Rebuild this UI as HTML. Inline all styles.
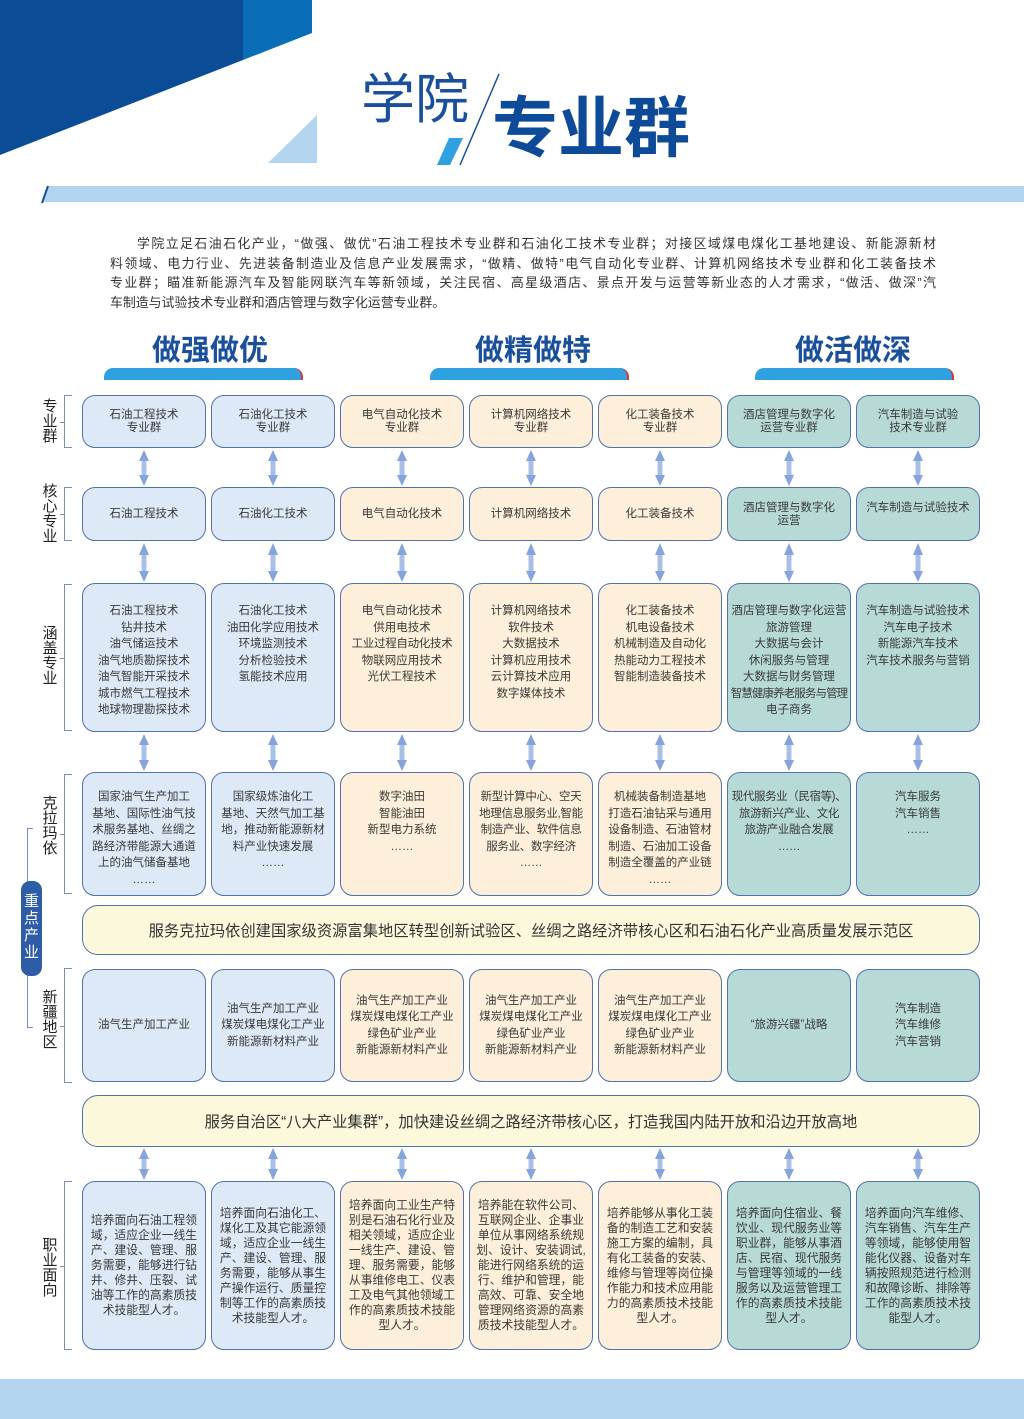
<!DOCTYPE html>
<html><head><meta charset="utf-8">
<style>
*{margin:0;padding:0;box-sizing:border-box}
body{width:1024px;height:1419px;position:relative;background:#fff;font-family:"Liberation Sans","Noto Sans CJK SC",sans-serif;color:#333;overflow:hidden}
.a{position:absolute}
.b{position:absolute;width:124px;border:1.5px solid #5272aa;border-radius:13px;text-align:center;font-size:11.5px;color:#3a3a3a;white-space:nowrap}
.c{display:flex;align-items:center;justify-content:center;line-height:13px}
.bl{background:#dde9f7}.cr{background:#fdefd9}.tl{background:#b7dad6}
.lab{position:absolute;left:42px;width:16px;font-size:15px;line-height:15px;color:#222;text-align:center}
.brk{position:absolute;left:64px;width:8px;border:1px solid #7a8fb5;border-right:none}
.brk:after{content:"";position:absolute;left:-5px;top:50%;width:5px;border-top:1px solid #7a8fb5}
.ban{position:absolute;left:82px;width:898px;background:#fbf8dc;border:1.5px solid #5272aa;border-radius:16px;font-size:15.3px;color:#333;display:flex;align-items:center;justify-content:center}
.h{position:absolute;font-size:29px;font-weight:bold;color:#1a4f9c;width:200px;text-align:center}
.tab{position:absolute;top:368px;width:199px;height:12px;background:#2fa0e0;border-radius:9px 9px 0 0;border-right:2px solid #d33}
.pl{display:block;height:19.5px;white-space:nowrap;text-align:justify;text-align-last:justify}
</style></head><body>
<svg class="a" style="left:0;top:0" width="1024" height="210">
<polygon points="0,0 243,0 243,60 0,155" fill="#0b4c96"/>
<polygon points="243,0 312,0 312,33 243,60" fill="#0a6db7"/>
<polygon points="317,115 317,163 268,163" fill="#b3d4ef"/>
<polygon points="449,138 463,138 450,165 437,165" fill="#2fa0e0"/>
<line x1="499" y1="74" x2="460" y2="165" stroke="#1a4f9c" stroke-width="1.5"/>
<polygon points="48,186 1024,186 1024,202 42,202" fill="#b3d4ef"/>
<line x1="48" y1="186" x2="42" y2="203" stroke="#1a4f9c" stroke-width="2"/>
</svg>
<div class="a" style="left:361px;top:68px;font-size:54px;color:#1a4f9c;line-height:64px">学院</div>
<div class="a" style="left:492px;top:90px;font-size:66px;font-weight:bold;color:#0d4b99;line-height:76px">专业群</div>
<div class="a" style="left:110px;top:234px;width:826px;font-size:12.9px;line-height:19.5px;color:#333">
<span class="pl" style="padding-left:27px">学院立足石油石化产业，“做强、做优”石油工程技术专业群和石油化工技术专业群；对接区域煤电煤化工基地建设、新能源新材</span>
<span class="pl">料领域、电力行业、先进装备制造业及信息产业发展需求，“做精、做特”电气自动化专业群、计算机网络技术专业群和化工装备技术</span>
<span class="pl">专业群；瞄准新能源汽车及智能网联汽车等新领域，关注民宿、高星级酒店、景点开发与运营等新业态的人才需求，“做活、做深”汽</span>
<span style="display:block;white-space:nowrap">车制造与试验技术专业群和酒店管理与数字化运营专业群。</span>
</div>
<div class="h" style="left:110px;top:327px">做强做优</div>
<div class="h" style="left:433px;top:327px">做精做特</div>
<div class="h" style="left:753px;top:327px">做活做深</div>
<div class="tab" style="left:104px"></div><div class="tab" style="left:430px"></div><div class="tab" style="left:755px"></div>

<div class="lab" style="top:399px">专<br>业<br>群</div><div class="brk" style="top:395px;height:53px"></div>
<div class="lab" style="top:484px">核<br>心<br>专<br>业</div><div class="brk" style="top:487px;height:54px"></div>
<div class="lab" style="top:626px">涵<br>盖<br>专<br>业</div><div class="brk" style="top:584px;height:147px"></div>
<div class="lab" style="top:796px">克<br>拉<br>玛<br>依</div><div class="brk" style="top:774px;height:120px"></div>
<div class="lab" style="top:990px">新<br>疆<br>地<br>区</div><div class="brk" style="top:968px;height:115px"></div>
<div class="lab" style="top:1238px">职<br>业<br>面<br>向</div><div class="brk" style="top:1181px;height:169px"></div>
<div class="a" style="left:27px;top:828px;width:6px;height:200px;border:1px solid #7a8fb5;border-right:none"></div>
<div class="a" style="left:21px;top:881px;width:21px;height:95px;background:#2e5ca6;border-radius:9px;color:#fff;font-size:15px;line-height:17px;text-align:center;padding-top:12px">重<br>点<br>产<br>业</div>

<svg class="a" style="left:0;top:0" width="1024" height="1419">
<g stroke="#a9bfe6" stroke-width="5">
<path d="M144 460V477M273 460V477M402 460V477M531 460V477M660 460V477M789 460V477M918 460V477"/>
<path d="M144 555V573M273 555V573M402 555V573M531 555V573M660 555V573M789 555V573M918 555V573"/>
<path d="M144 745V762M273 745V762M402 745V762M531 745V762M660 745V762M789 745V762M918 745V762"/>
<path d="M144 1158V1171M273 1158V1171M402 1158V1171M531 1158V1171M660 1158V1171M789 1158V1171M918 1158V1171"/>
</g>
<g fill="#86a3dc">
<path id="p1" d="M144 450l-5 11h10z M144 486l-5-11h10z"/>
<use href="#p1" x="129"/><use href="#p1" x="258"/><use href="#p1" x="387"/><use href="#p1" x="516"/><use href="#p1" x="645"/><use href="#p1" x="774"/>
<path id="p2" d="M144 543l-5 12h10z M144 582l-5-11h10z"/>
<use href="#p2" x="129"/><use href="#p2" x="258"/><use href="#p2" x="387"/><use href="#p2" x="516"/><use href="#p2" x="645"/><use href="#p2" x="774"/>
<path id="p3" d="M144 734l-5 11h10z M144 771l-5-11h10z"/>
<use href="#p3" x="129"/><use href="#p3" x="258"/><use href="#p3" x="387"/><use href="#p3" x="516"/><use href="#p3" x="645"/><use href="#p3" x="774"/>
<path id="p4" d="M144 1148l-5 11h10z M144 1180l-5-11h10z"/>
<use href="#p4" x="129"/><use href="#p4" x="258"/><use href="#p4" x="387"/><use href="#p4" x="516"/><use href="#p4" x="645"/><use href="#p4" x="774"/>
</g>
</svg>

<div class="b c bl" style="left:82px;top:395px;height:53px">石油工程技术<br>专业群</div>
<div class="b c bl" style="left:211px;top:395px;height:53px">石油化工技术<br>专业群</div>
<div class="b c cr" style="left:340px;top:395px;height:53px">电气自动化技术<br>专业群</div>
<div class="b c cr" style="left:469px;top:395px;height:53px">计算机网络技术<br>专业群</div>
<div class="b c cr" style="left:598px;top:395px;height:53px">化工装备技术<br>专业群</div>
<div class="b c tl" style="left:727px;top:395px;height:53px">酒店管理与数字化<br>运营专业群</div>
<div class="b c tl" style="left:856px;top:395px;height:53px">汽车制造与试验<br>技术专业群</div>

<div class="b c bl" style="left:82px;top:487px;height:54px">石油工程技术</div>
<div class="b c bl" style="left:211px;top:487px;height:54px">石油化工技术</div>
<div class="b c cr" style="left:340px;top:487px;height:54px">电气自动化技术</div>
<div class="b c cr" style="left:469px;top:487px;height:54px">计算机网络技术</div>
<div class="b c cr" style="left:598px;top:487px;height:54px">化工装备技术</div>
<div class="b tl" style="left:727px;top:487px;height:54px;padding-top:14px;line-height:13px">酒店管理与数字化<br>运营</div>
<div class="b tl" style="left:856px;top:487px;height:54px;padding-top:14px;line-height:13px">汽车制造与试验技术</div>

<div class="b bl" style="left:82px;top:583px;height:149px;padding-top:19px;line-height:16.5px">石油工程技术<br>钻井技术<br>油气储运技术<br>油气地质勘探技术<br>油气智能开采技术<br>城市燃气工程技术<br>地球物理勘探技术</div>
<div class="b bl" style="left:211px;top:583px;height:149px;padding-top:19px;line-height:16.5px">石油化工技术<br>油田化学应用技术<br>环境监测技术<br>分析检验技术<br>氢能技术应用</div>
<div class="b cr" style="left:340px;top:583px;height:149px;padding-top:19px;line-height:16.5px">电气自动化技术<br>供用电技术<br><span style="letter-spacing:-0.3px">工业过程自动化技术</span><br>物联网应用技术<br>光伏工程技术</div>
<div class="b cr" style="left:469px;top:583px;height:149px;padding-top:19px;line-height:16.5px">计算机网络技术<br>软件技术<br>大数据技术<br>计算机应用技术<br>云计算技术应用<br>数字媒体技术</div>
<div class="b cr" style="left:598px;top:583px;height:149px;padding-top:19px;line-height:16.5px">化工装备技术<br>机电设备技术<br>机械制造及自动化<br>热能动力工程技术<br>智能制造装备技术</div>
<div class="b tl" style="left:727px;top:583px;height:149px;padding-top:19px;line-height:16.5px">酒店管理与数字化运营<br>旅游管理<br>大数据与会计<br>休闲服务与管理<br>大数据与财务管理<br><span style="letter-spacing:-0.9px">智慧健康养老服务与管理</span><br>电子商务</div>
<div class="b tl" style="left:856px;top:583px;height:149px;padding-top:19px;line-height:16.5px">汽车制造与试验技术<br>汽车电子技术<br>新能源汽车技术<br>汽车技术服务与营销</div>

<div class="b bl" style="left:82px;top:772px;height:124px;padding-top:16px;line-height:16.5px">国家油气生产加工<br>基地、国际性油气技<br>术服务基地、丝绸之<br>路经济带能源大通道<br>上的油气储备基地<br>……</div>
<div class="b bl" style="left:211px;top:772px;height:124px;padding-top:16px;line-height:16.5px">国家级炼油化工<br>基地、天然气加工基<br>地，推动新能源新材<br>料产业快速发展<br>……</div>
<div class="b cr" style="left:340px;top:772px;height:124px;padding-top:16px;line-height:16.5px">数字油田<br>智能油田<br>新型电力系统<br>……</div>
<div class="b cr" style="left:469px;top:772px;height:124px;padding-top:16px;line-height:16.5px;letter-spacing:-0.3px">新型计算中心、空天<br>地理信息服务业,智能<br>制造产业、软件信息<br>服务业、数字经济<br>……</div>
<div class="b cr" style="left:598px;top:772px;height:124px;padding-top:16px;line-height:16.5px">机械装备制造基地<br>打造石油钻采与通用<br>设备制造、石油管材<br>制造、石油加工设备<br>制造全覆盖的产业链<br>……</div>
<div class="b tl" style="left:727px;top:772px;height:124px;padding-top:16px;line-height:16.5px;letter-spacing:-0.4px">现代服务业（民宿等)、<br>旅游新兴产业、文化<br>旅游产业融合发展<br>……</div>
<div class="b tl" style="left:856px;top:772px;height:124px;padding-top:16px;line-height:16.5px">汽车服务<br>汽车销售<br>……</div>
<div class="ban" style="top:905px;height:50px">服务克拉玛依创建国家级资源富集地区转型创新试验区、丝绸之路经济带核心区和石油石化产业高质量发展示范区</div>

<div class="b c bl" style="left:82px;top:969px;height:113px;line-height:16.5px">油气生产加工产业</div>
<div class="b c bl" style="left:211px;top:969px;height:113px;line-height:16.5px">油气生产加工产业<br>煤炭煤电煤化工产业<br>新能源新材料产业</div>
<div class="b c cr" style="left:340px;top:969px;height:113px;line-height:16.5px">油气生产加工产业<br>煤炭煤电煤化工产业<br>绿色矿业产业<br>新能源新材料产业</div>
<div class="b c cr" style="left:469px;top:969px;height:113px;line-height:16.5px">油气生产加工产业<br>煤炭煤电煤化工产业<br>绿色矿业产业<br>新能源新材料产业</div>
<div class="b c cr" style="left:598px;top:969px;height:113px;line-height:16.5px">油气生产加工产业<br>煤炭煤电煤化工产业<br>绿色矿业产业<br>新能源新材料产业</div>
<div class="b c tl" style="left:727px;top:969px;height:113px;line-height:16.5px">“旅游兴疆”战略</div>
<div class="b c tl" style="left:856px;top:969px;height:113px;line-height:16.5px">汽车制造<br>汽车维修<br>汽车营销</div>
<div class="ban" style="top:1095px;height:52px">服务自治区“八大产业集群”，加快建设丝绸之路经济带核心区，打造我国内陆开放和沿边开放高地</div>

<div class="b c bl" style="left:82px;top:1181px;height:169px;line-height:15px;font-size:11.8px">培养面向石油工程领<br>域，适应企业一线生<br>产、建设、管理、服<br>务需要，能够进行钻<br>井、修井、压裂、试<br>油等工作的高素质技<br>术技能型人才。</div>
<div class="b c bl" style="left:211px;top:1181px;height:169px;line-height:15px;font-size:11.8px">培养面向石油化工、<br>煤化工及其它能源领<br>域，适应企业一线生<br>产、建设、管理、服<br>务需要，能够从事生<br>产操作运行、质量控<br>制等工作的高素质技<br>术技能型人才。</div>
<div class="b c cr" style="left:340px;top:1181px;height:169px;line-height:15px;font-size:11.8px">培养面向工业生产特<br>别是石油石化行业及<br>相关领域，适应企业<br>一线生产、建设、管<br>理、服务需要，能够<br>从事维修电工、仪表<br>工及电气其他领域工<br>作的高素质技术技能<br>型人才。</div>
<div class="b c cr" style="left:469px;top:1181px;height:169px;line-height:15px;font-size:11.8px">培养能在软件公司、<br>互联网企业、企事业<br>单位从事网络系统规<br>划、设计、安装调试,<br>能进行网络系统的运<br>行、维护和管理，能<br>高效、可靠、安全地<br>管理网络资源的高素<br>质技术技能型人才。</div>
<div class="b c cr" style="left:598px;top:1181px;height:169px;line-height:15px;font-size:11.8px">培养能够从事化工装<br>备的制造工艺和安装<br>施工方案的编制，具<br>有化工装备的安装、<br>维修与管理等岗位操<br>作能力和技术应用能<br>力的高素质技术技能<br>型人才。</div>
<div class="b c tl" style="left:727px;top:1181px;height:169px;line-height:15px;font-size:11.8px">培养面向住宿业、餐<br>饮业、现代服务业等<br>职业群，能够从事酒<br>店、民宿、现代服务<br>与管理等领域的一线<br>服务以及运营管理工<br>作的高素质技术技能<br>型人才。</div>
<div class="b c tl" style="left:856px;top:1181px;height:169px;line-height:15px;font-size:11.8px">培养面向汽车维修、<br>汽车销售、汽车生产<br>等领域，能够使用智<br>能化仪器、设备对车<br>辆按照规范进行检测<br>和故障诊断、排除等<br>工作的高素质技术技<br>能型人才。</div>

<div class="a" style="left:0;top:1379px;width:1024px;height:40px;background:#b3d4ef"></div>
</body></html>
